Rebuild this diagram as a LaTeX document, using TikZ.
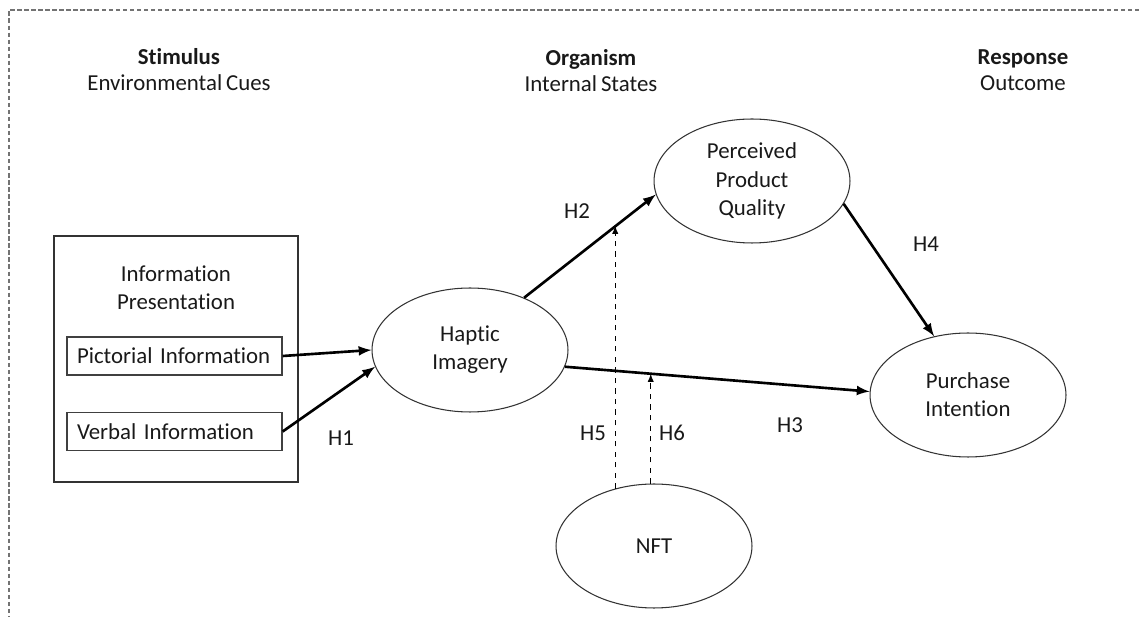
\documentclass[tikz,border=0pt]{standalone}
\usepackage{fontspec}
\setmainfont{Carlito}[Ligatures=NoCommon, WordSpace=0.75]
\usepackage{tikz}
\usetikzlibrary{calc, shapes.geometric, positioning}

\begin{document}
\begin{tikzpicture}[>=latex, x=0.02cm, y=-0.02cm,
    every node/.style={font=\fontsize{13}{16}\selectfont, text=black!90},
    head/.style={align=center, font=\fontsize{13}{14.8}\selectfont},
    construct/.style={draw=black!80, line width=0.6pt, ellipse, minimum width=3.92cm, minimum height=2.48cm, inner sep=0pt, align=center},
    infoitem/.style={draw=black!75, line width=0.8pt, text width=3.9cm, inner xsep=0.2cm, minimum height=0.76cm, align=left},
    link/.style={->, line width=1.5pt},
    moder/.style={->, dashed, line width=0.6pt}]
    \useasboundingbox (0,0) rectangle (1139,617);

    % Khung
    \draw[black!55, line width=0.6pt, dash pattern=on 2.5pt off 1.5pt] (1139,10) -- (9,10) -- (9,617);

    % Tieu de
    \node[head] (stim) at (179,70) {\textbf{Stimulus}\\Environmental Cues};
    \node[head] (org) at (591,71) {\textbf{Organism}\\Internal States};
    \node[head] (resp) at (1023,70) {\textbf{Response}\\Outcome};

    % Information Presentation
    \node[draw=black!80, line width=1pt, minimum width=4.88cm, minimum height=4.92cm] (info) at (176,359) {};
    \node[align=center] (infolbl) at (176,288) {Information\\Presentation};
    \node[infoitem] (pic) at (174.5,356) {\mbox{Pictorial Information}};
    \node[infoitem] (ver) at (174.5,431.5) {\mbox{Verbal Information}};

    % Cac bien
    \node[construct] (hap) at (470,350) {Haptic\\Imagery};
    \node[construct] (ppq) at (752,181) {Perceived\\Product\\Quality};
    \node[construct] (pi) at (968,395) {Purchase\\Intention};
    \node[construct] (nft) at (654,546) {NFT};

    % Duong noi
    \draw[link] (pic.east) -- (hap.west);
    \draw[link] (ver.east) -- (hap.190);
    \draw[link] (hap.44) -- coordinate[pos=0.697] (m5) (ppq.188);
    \draw[link] (hap.350) -- coordinate[pos=0.2855] (m6) (pi.178);
    \draw[link] (ppq.346) -- (pi.120);
    \draw[moder] (nft.124) -- (nft.124 |- m5);
    \draw[moder] (nft.93) -- (nft.93 |- m6);

    % Gia thuyet
    \node (h1) at (341,438) {H1};
    \node (h2) at (577,211) {H2};
    \node (h3) at (790,425) {H3};
    \node (h4) at (926,244) {H4};
    \node (h5) at (593,433) {H5};
    \node (h6) at (672,433) {H6};
\end{tikzpicture}
\end{document}
